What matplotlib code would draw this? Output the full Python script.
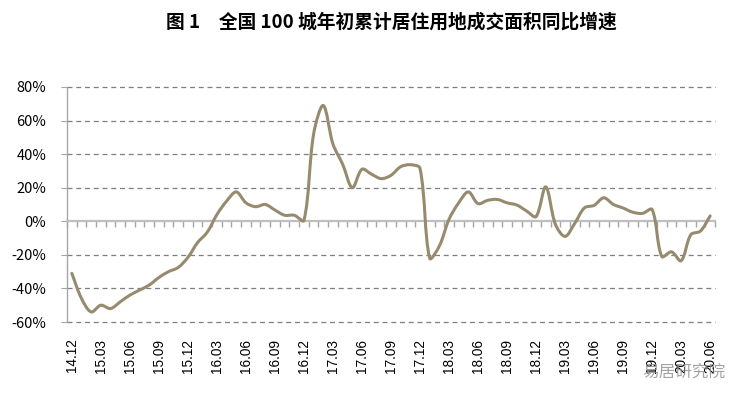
import numpy as np
import matplotlib
matplotlib.use("Agg")
import matplotlib.pyplot as plt
from matplotlib.path import Path
from matplotlib.patches import PathPatch

plt.rcParams['font.family'] = ['Noto Sans CJK SC', 'DejaVu Sans']

# 月份 14.12 -> 20.06
months = []
yr, mo = 14, 12
for _ in range(67):
    months.append(f"{yr}.{mo:02d}")
    mo += 1
    if mo > 12:
        mo = 1
        yr += 1

# 年初累计居住用地成交面积同比增速 (%)
growth = [-31, -46, -54, -50, -52, -48, -44, -41, -38, -33.5,
          -30, -27.5, -21.5, -12.7, -6.5, 4, 12, 17.5, 11, 8.7,
          10, 6.7, 3.6, 3.6, 0.5, 52, 69, 46, 34, 20,
          31, 28, 25.4, 27.4, 32.5, 33.7, 31.5, -22, -14.7, 1.2,
          11, 17.5, 10.5, 12.5, 13, 11, 9.7, 6.2, 2.8, 20.5,
          -1.8, -9, -1.2, 8, 9.5, 14, 10, 7.9, 5.4, 4.7,
          7, -21, -18.2, -23.5, -8, -5.8, 3.2]

yticks = [-60, -40, -20, 0, 20, 40, 60, 80]
line_color = '#968B6E'


def smooth_path(x, y, sx=9.67, sy=1.68):
    # 类似 Excel 平滑线: 控制点长度按相邻线段长度分配 (像素尺度下计算)
    px = np.asarray(x, float) * sx
    py = np.asarray(y, float) * sy
    n = len(px)
    cin = np.zeros((n, 2))
    cout = np.zeros((n, 2))
    for i in range(n):
        a = max(i - 1, 0)
        b = min(i + 1, n - 1)
        tx, ty = px[b] - px[a], py[b] - py[a]
        d1 = np.hypot(px[i] - px[a], py[i] - py[a])
        d2 = np.hypot(px[b] - px[i], py[b] - py[i])
        s = d1 + d2 if d1 + d2 > 0 else 1
        cin[i] = (px[i] - tx * d1 / s / 3, py[i] - ty * d1 / s / 3)
        cout[i] = (px[i] + tx * d2 / s / 3, py[i] + ty * d2 / s / 3)
    verts = [(px[0], py[0])]
    codes = [Path.MOVETO]
    for i in range(n - 1):
        verts += [tuple(cout[i]), tuple(cin[i + 1]), (px[i + 1], py[i + 1])]
        codes += [Path.CURVE4] * 3
    verts = [(vx / sx, vy / sy) for vx, vy in verts]
    return Path(verts, codes)


fig = plt.figure(figsize=(7.49, 4.01), dpi=100)
ax = fig.add_axes([67 / 749, 1 - 322 / 401, 648 / 749, 235 / 401])

x = np.arange(len(growth))
ax.add_patch(PathPatch(smooth_path(x, growth),
                       facecolor='none', edgecolor=line_color, lw=2.2,
                       capstyle='round', joinstyle='round', zorder=3))

ax.set_xlim(-0.5, len(growth) - 0.5)
ax.set_ylim(-60, 80)

# y 轴
ax.set_yticks(yticks)
ax.set_yticklabels([f"{v}%" for v in yticks], fontsize=10.5, color='#000000')
ax.tick_params(axis='y', length=4, color='#A6A6A6', pad=11)
for v in yticks:
    if v != 0:
        ax.axhline(v, color='#7F7F7F', lw=0.9, ls=(0, (4, 3)), zorder=1,
                   clip_on=False)

# x 轴位于 0 处, 刻度在类别边界
ax.spines['bottom'].set_position(('data', 0))
ax.spines['bottom'].set_color('#BFBFBF')
ax.spines['bottom'].set_linewidth(1.6)
ax.spines['left'].set_color('#A6A6A6')
ax.spines['left'].set_linewidth(1.0)
ax.spines['top'].set_visible(False)
ax.spines['right'].set_visible(False)
ax.set_xticks([])
ax.set_xticks(np.arange(-0.5, len(growth), 1), minor=True)
ax.tick_params(axis='x', which='minor', length=4, width=1, color='#A6A6A6',
               direction='out')

# 类别标签放在图底部
sec = ax.secondary_xaxis(0)
lab_idx = list(range(0, len(months), 3))
sec.set_xticks(lab_idx)
sec.set_xticklabels([months[i] for i in lab_idx], rotation=90,
                    fontsize=9.8, family='Liberation Sans')
sec.tick_params(length=0, pad=12)
sec.spines['bottom'].set_visible(False)

fig.text(0.523, 0.945, "图 1　全国 100 城年初累计居住用地成交面积同比增速",
         ha='center', va='center', fontsize=13.5, fontweight='bold')

# 水印
fig.text(0.913, 0.072, "易居研究院", ha='center', va='center',
         fontsize=12, color='#8C8C8C', alpha=0.8)

fig.savefig("out.png", dpi=100)
